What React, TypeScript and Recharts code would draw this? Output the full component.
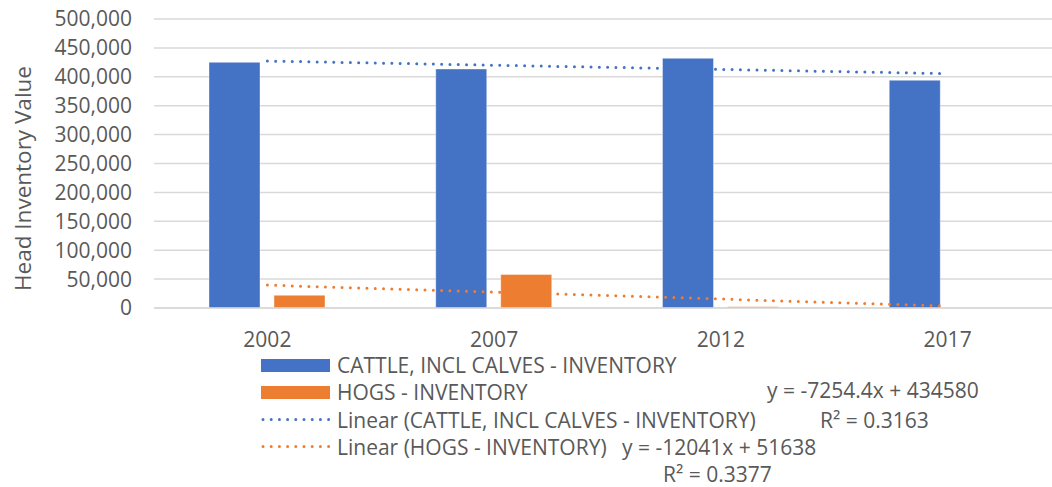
import React from 'react';
import {
  ComposedChart,
  Bar,
  Line,
  XAxis,
  YAxis,
  CartesianGrid,
} from 'recharts';

const years = ['2002', '2007', '2012', '2017'];
const cattle = [425000, 413500, 432000, 394000];
const hogs = [22000, 58000, 2000, 0];
// trendline values at each category, from the equations shown on the chart
const cattleTrend = [427326, 420071, 412817, 405562];
const hogsTrend = [39597, 27556, 15515, 3474];
const yTicks = [0, 50000, 100000, 150000, 200000, 250000, 300000, 350000, 400000, 450000, 500000];

const BLUE = '#4472C4';
const ORANGE = '#ED7D31';
const TEXT = '#595959';
const GRID = '#D9D9D9';
const FONT = '"Open Sans", sans-serif';
const FS = 21;

const chartData = years.map((y, i) => ({
  year: y,
  cattle: cattle[i],
  hogs: hogs[i],
  cattleTrend: cattleTrend[i],
  hogsTrend: hogsTrend[i],
}));

const legendItems = [
  { label: 'CATTLE, INCL CALVES - INVENTORY', color: BLUE, kind: 'bar' },
  { label: 'HOGS - INVENTORY', color: ORANGE, kind: 'bar' },
  { label: 'Linear (CATTLE, INCL CALVES - INVENTORY)', color: BLUE, kind: 'dot' },
  { label: 'Linear (HOGS - INVENTORY)', color: ORANGE, kind: 'dot' },
];

const annotations = [
  { text: 'y = -7254.4x + 434580', left: 767, cy: 390 },
  { text: 'R² = 0.3163', left: 820, cy: 420 },
  { text: 'y = -12041x + 51638', left: 622, cy: 447 },
  { text: 'R² = 0.3377', left: 663, cy: 474 },
];

function YTitle(props: any) {
  const vb = props.viewBox || { x: 0, y: 0, width: 0, height: 0 };
  const x = vb.x + 22;
  const y = vb.y + vb.height / 2 + 15;
  return (
    <text
      x={x}
      y={y}
      transform={`rotate(-90 ${x} ${y})`}
      textAnchor="middle"
      dominantBaseline="central"
      fill={TEXT}
      fontSize={22.5}
      fontFamily={FONT}
    >
      Head Inventory Value
    </text>
  );
}

function LegendIcon({ color, kind }: { color: string; kind: string }) {
  if (kind === 'bar') {
    return <div style={{ width: 69, height: 13, background: color, marginRight: 7 }} />;
  }
  return (
    <svg width={69} height={13} style={{ marginRight: 7 }}>
      <line
        x1={2}
        y1={6.5}
        x2={68}
        y2={6.5}
        stroke={color}
        strokeWidth={3}
        strokeDasharray="0 8.2"
        strokeLinecap="round"
      />
    </svg>
  );
}

export default function App() {
  return (
    <div
      style={{
        position: 'absolute',
        left: 0,
        top: 0,
        width: 1052,
        height: 487,
        overflow: 'hidden',
        background: '#fff',
        fontFamily: FONT,
      }}
    >
      <ComposedChart
        width={1061}
        height={487}
        data={chartData}
        margin={{ top: 19, right: 0, left: 0, bottom: 149 }}
        barGap={14}
      >
        <CartesianGrid stroke={GRID} strokeWidth={1.5} vertical={false} />
        <XAxis
          dataKey="year"
          height={30}
          tickLine={false}
          axisLine={{ stroke: GRID, strokeWidth: 1.5 }}
          tickMargin={18}
          tick={{ fill: TEXT, fontSize: FS, fontFamily: FONT }}
        />
        <YAxis
          width={154}
          domain={[0, 500000]}
          ticks={yTicks}
          interval={0}
          tickLine={false}
          axisLine={false}
          tickMargin={16}
          tick={{ fill: TEXT, fontSize: FS, fontFamily: FONT }}
          tickFormatter={(v: number) => v.toLocaleString('en-US')}
          label={<YTitle />}
        />
        <Line
          dataKey="cattleTrend"
          type="linear"
          stroke={BLUE}
          strokeWidth={3}
          strokeDasharray="0 8.3"
          strokeLinecap="round"
          dot={false}
          activeDot={false}
          isAnimationActive={false}
        />
        <Line
          dataKey="hogsTrend"
          type="linear"
          stroke={ORANGE}
          strokeWidth={3}
          strokeDasharray="0 8.3"
          strokeLinecap="round"
          dot={false}
          activeDot={false}
          isAnimationActive={false}
        />
        <Bar
          dataKey="cattle"
          fill={BLUE}
          barSize={51}
          stroke="#ffffff"
          strokeOpacity={0.4}
          strokeWidth={1}
          isAnimationActive={false}
        />
        <Bar
          dataKey="hogs"
          fill={ORANGE}
          barSize={51}
          stroke="#ffffff"
          strokeOpacity={0.4}
          strokeWidth={1}
          isAnimationActive={false}
        />
      </ComposedChart>

      {legendItems.map((item, i) => (
        <div
          key={item.label}
          style={{
            position: 'absolute',
            left: 261,
            top: 365 + i * 27.3 - 12,
            height: 24,
            display: 'flex',
            alignItems: 'center',
            color: TEXT,
            fontSize: FS,
            whiteSpace: 'nowrap',
          }}
        >
          <LegendIcon color={item.color} kind={item.kind} />
          <span style={{ lineHeight: '24px' }}>{item.label}</span>
        </div>
      ))}

      {annotations.map((a) => (
        <div
          key={a.text}
          style={{
            position: 'absolute',
            left: a.left,
            top: a.cy - 12,
            lineHeight: '24px',
            color: TEXT,
            fontSize: FS,
            whiteSpace: 'nowrap',
          }}
        >
          {a.text}
        </div>
      ))}
    </div>
  );
}
